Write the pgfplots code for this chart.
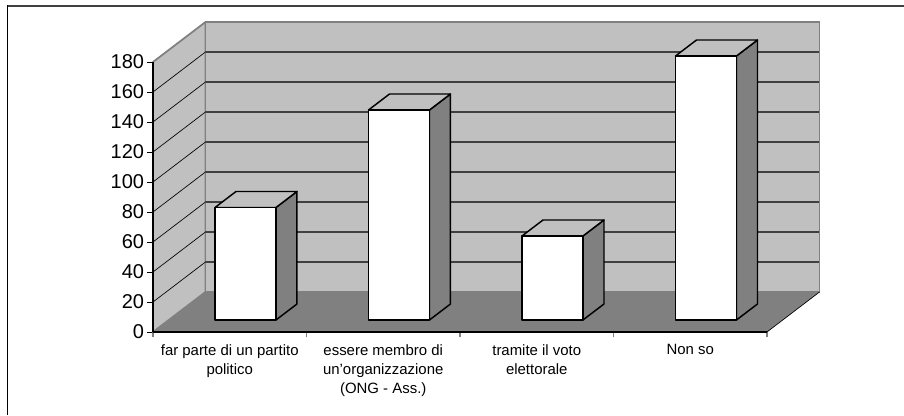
\documentclass[border=0pt]{standalone}
\usepackage{pgfplots}
\pgfplotsset{compat=1.18}
\usepackage{fontspec}
\setmainfont{Liberation Sans}
\definecolor{wall}{HTML}{C0C0C0}
\definecolor{shade}{HTML}{808080}
\definecolor{gridc}{HTML}{404040}
% depth of the whole box: 0.342 categories, 26.67 value units
\newcommand\gl[2]{%
  \addplot[black,line width=0.5pt] coordinates {(0,#1) (0.342,#2)};
  \addplot[gridc,line width=0.8pt] coordinates {(0.342,#2) (4.342,#2)};
}
% #1 category index, #2 value
\newcommand\tdbar[2]{%
  \pgfmathsetmacro\xl{#1+0.404}%
  \pgfmathsetmacro\xr{#1+0.801}%
  \pgfmathsetmacro\xb{#1+0.938}%
  \pgfmathsetmacro\xc{#1+0.541}%
  \pgfmathsetmacro\yt{#2+8}%
  \pgfmathsetmacro\ybt{#2+18.67}%
  \edef\tmp{%
    \noexpand\addplot[fill=shade,draw=black,line width=1.1pt,line join=round] coordinates {(\xr,8) (\xb,18.67) (\xb,\ybt) (\xr,\yt)} -- cycle;
    \noexpand\addplot[fill=wall,draw=black,line width=1.1pt,line join=round] coordinates {(\xl,\yt) (\xr,\yt) (\xb,\ybt) (\xc,\ybt)} -- cycle;
    \noexpand\addplot[fill=white,draw=black,line width=1.1pt,line join=round] coordinates {(\xl,8) (\xr,8) (\xr,\yt) (\xl,\yt)} -- cycle;
  }\tmp
}
\begin{document}
\begin{tikzpicture}
\path[use as bounding box] (-114.75pt,-63pt) rectangle (563.25pt,249pt);
\fill[white] (-114.75pt,-63pt) rectangle (563.25pt,249pt);
\draw[gridc,line width=1.5pt] (-109.1pt,244.5pt) -- (563.25pt,244.5pt);
\draw[black,line width=0.8pt] (-109.1pt,245pt) -- (-109.1pt,-62.5pt);
\begin{axis}[
  at={(0pt,0pt)},anchor=origin,
  anchor=south west,
  scale only axis,width=460.5pt,height=202.5pt,
  xmin=0,xmax=4,ymin=0,ymax=180,
  clip=false,
  axis x line*=bottom,axis y line*=left,
  axis line style={black,line width=0.8pt,-},
  xtick={0.5,1.5,2.5,3.5},
  minor xtick={0,1,2,3,4},
  xticklabels={{far parte di un partito\\politico},{essere membro di\\un'organizzazione\\(ONG - Ass.)},{tramite il voto\\elettorale},{Non so}},
  ytick={0,20,...,180},
  major tick length=4.5pt,
  minor tick length=4pt,
  tick align=outside,
  major x tick style={draw=none},
  minor x tick style={shade,line width=0.8pt},
  ytick style={black,line width=0.6pt},
  /pgf/number format/assume math mode=true,
  yticklabel style={font=\fontsize{15}{18}\selectfont,inner sep=0pt,xshift=-2pt},
  xticklabel style={font=\fontsize{11.2}{14.25}\selectfont,align=center,inner sep=0pt,yshift=-4.5pt},
]
\addplot[fill=wall,draw=shade,line width=1.3pt,line join=round] coordinates {(0,0) (0.342,26.67) (0.342,206.67) (0,180)} -- cycle;
\addplot[fill=wall,draw=shade,line width=1.3pt] coordinates {(0.342,26.67) (4.342,26.67) (4.342,206.67) (0.342,206.67)} -- cycle;
\gl{20}{46.67}\gl{40}{66.67}\gl{60}{86.67}\gl{80}{106.67}\gl{100}{126.67}
\gl{120}{146.67}\gl{140}{166.67}\gl{160}{186.67}
\addplot[fill=shade,draw=none] coordinates {(0,0) (4,0) (4.342,26.67) (0.342,26.67)} -- cycle;
\addplot[black,line width=0.5pt] coordinates {(4,0) (4.342,26.67)};
\addplot[black,line width=0.8pt] coordinates {(0,0) (4,0)};
\addplot[black,line width=0.8pt] coordinates {(0,0) (0,180)};
\tdbar{0}{75}
\tdbar{1}{140}
\tdbar{2}{56}
\tdbar{3}{176}
\end{axis}
\end{tikzpicture}
\end{document}
